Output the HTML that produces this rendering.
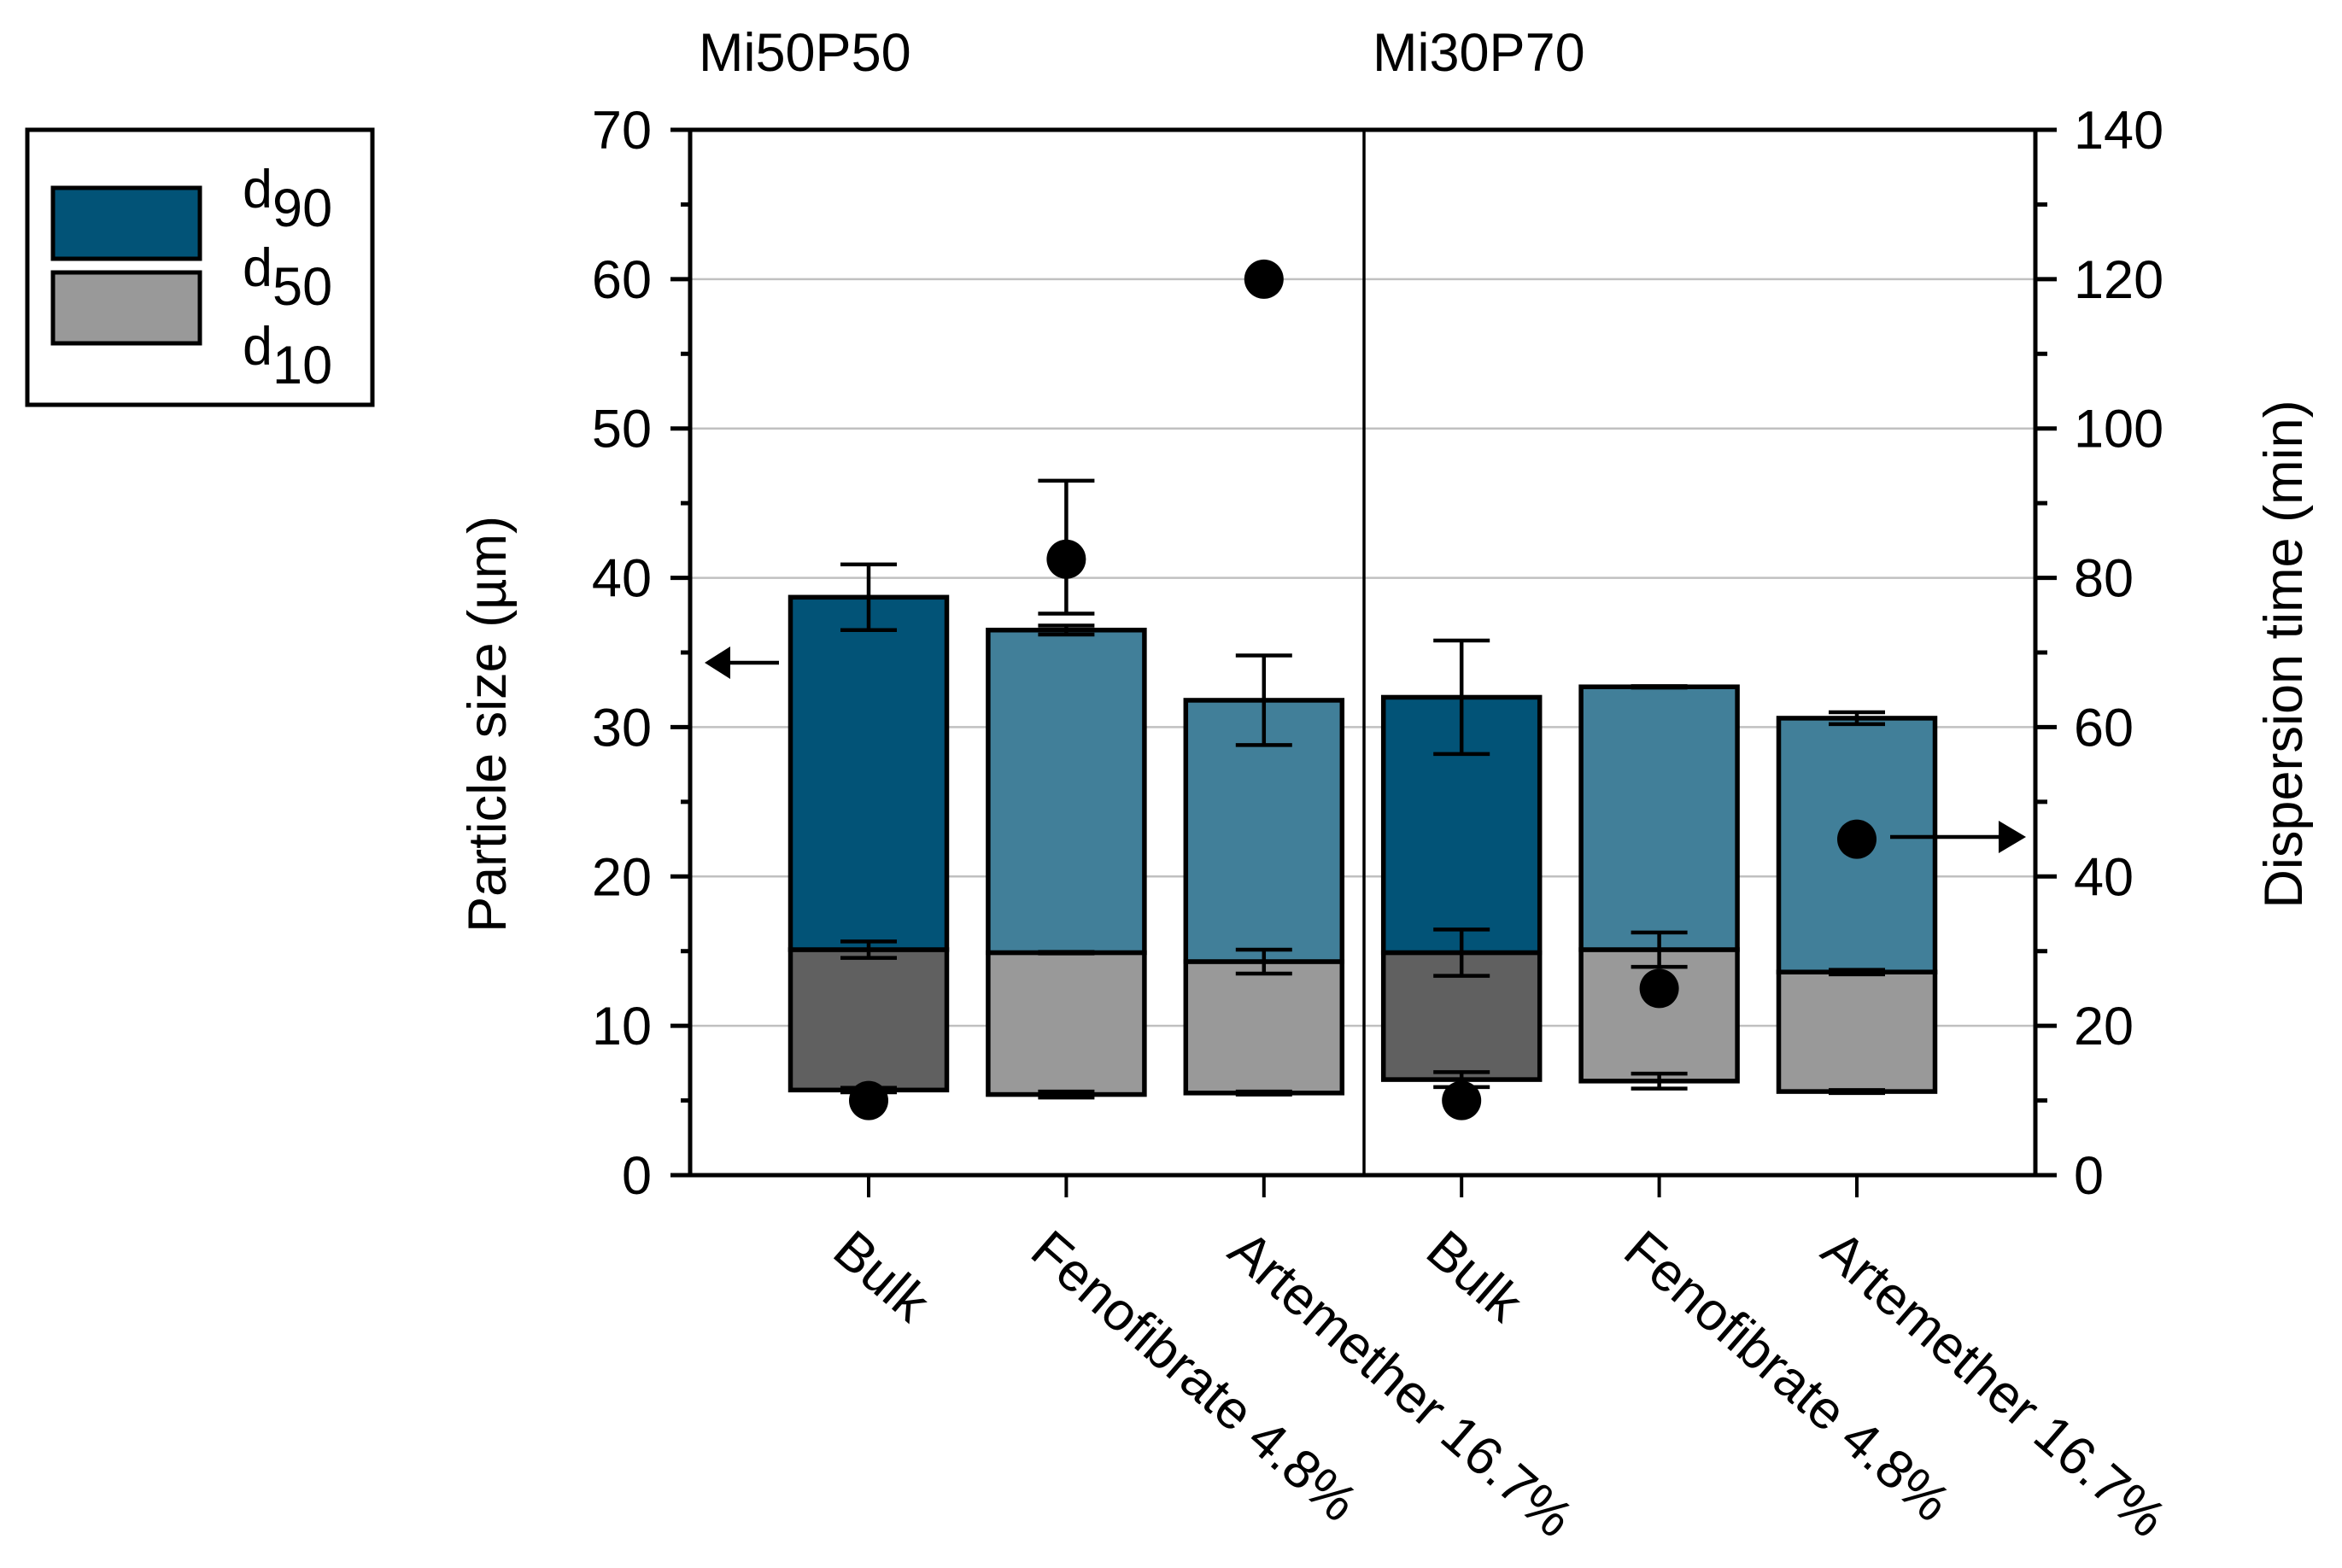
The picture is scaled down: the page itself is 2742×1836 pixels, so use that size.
<!DOCTYPE html>
<html><head><meta charset="utf-8"><style>
html,body{margin:0;padding:0;background:#fff;}
svg{display:block;font-family:"Liberation Sans",Arial,sans-serif;}
</style></head><body>
<svg id="chart" width="2742" height="1836" viewBox="0 0 2742 1836"></svg>
<script>
const categories = ["Bulk","Fenofibrate 4.8%","Artemether 16.7%","Bulk","Fenofibrate 4.8%","Artemether 16.7%"];
const d10 = [5.7,5.4,5.5,6.4,6.3,5.6];
const d10Err = [0.15,0.2,0.1,0.5,0.5,0.1];
const d50 = [15.1,14.9,14.3,14.9,15.1,13.6];
const d50Err = [0.55,0.05,0.8,1.55,1.15,0.15];
const d90 = [38.7,36.5,31.8,32.0,32.7,30.6];
const d90Err = [2.2,0.3,3.0,3.8,0.05,0.4];
const dispTime = [10,82.5,120,10,25,45];
const dispLo = [10,75.2,120,10,25,45];
const dispHi = [10,93,120,10,25,45];
const darkBar = [true,false,false,true,false,false];
const leftTicks = [0,10,20,30,40,50,60,70];
const rightTicks = [0,20,40,60,80,100,120,140];
const groups = ["Mi50P50","Mi30P70"];

const NS="http://www.w3.org/2000/svg";
const svg=document.getElementById('chart');
const L=808,R=2383,T=152,B=1376,DIV=1597;
const y=v=>B-(v/70)*(B-T);
const y2=v=>B-(v/140)*(B-T);
const x0=1017,step=231.4,bw=183;
const xc=i=>x0+i*step;
function el(tag,attrs,parent){const e=document.createElementNS(NS,tag);for(const k in attrs)e.setAttribute(k,attrs[k]);(parent||svg).appendChild(e);return e;}

leftTicks.forEach(t=>{ if(t>0&&t<70){const g=el('line',{x1:L,x2:R,y1:y(t),y2:y(t),stroke:'#c0c0c0','stroke-width':2.5});

}});

categories.forEach((c,i)=>{
  const cx=xc(i);
  const lower=el('rect',{x:cx-bw/2,y:y(d50[i]),width:bw,height:y(d10[i])-y(d50[i]),fill:darkBar[i]?'#606060':'#999999',stroke:'#000','stroke-width':5.5});
  
  
  const upper=el('rect',{x:cx-bw/2,y:y(d90[i]),width:bw,height:y(d50[i])-y(d90[i]),fill:darkBar[i]?'#025377':'#417f99',stroke:'#000','stroke-width':5.5});
  
  
  [[d90,d90Err],[d50,d50Err],[d10,d10Err]].forEach(([v,e])=>{
    const g=el('g',{stroke:'#000','stroke-width':4.5,fill:'none'});
    
    
    const a=y(v[i]+e[i]),b=y(v[i]-e[i]);
    el('line',{x1:cx,x2:cx,y1:a,y2:b},g);
    el('line',{x1:cx-33,x2:cx+33,y1:a,y2:a},g);
    el('line',{x1:cx-33,x2:cx+33,y1:b,y2:b},g);
  });
});
categories.forEach((c,i)=>{
  const cx=xc(i);
  if(dispHi[i]!==dispLo[i]){
    const g=el('g',{stroke:'#000','stroke-width':4.5});
    
    
    el('line',{x1:cx,x2:cx,y1:y2(dispHi[i]),y2:y2(dispLo[i])},g);
    el('line',{x1:cx-33,x2:cx+33,y1:y2(dispHi[i]),y2:y2(dispHi[i])},g);
    el('line',{x1:cx-33,x2:cx+33,y1:y2(dispLo[i]),y2:y2(dispLo[i])},g);
  }
  const p=el('circle',{cx:cx,cy:y2(dispTime[i]),r:23,fill:'#000'});
  
  
});

const frame=el('g',{stroke:'#000',fill:'none'});


el('line',{x1:L,x2:L,y1:T-2,y2:B+2,'stroke-width':5},frame);
el('line',{x1:R,x2:R,y1:T-2,y2:B+2,'stroke-width':5},frame);
el('line',{x1:L-2,x2:R+2,y1:T,y2:T,'stroke-width':5},frame);
el('line',{x1:L-2,x2:R+2,y1:B,y2:B,'stroke-width':5},frame);
el('line',{x1:DIV,x2:DIV,y1:T,y2:B,'stroke-width':3.5},frame);

leftTicks.forEach(t=>{
  el('line',{x1:L-23,x2:L,y1:y(t),y2:y(t),stroke:'#000','stroke-width':5});
  if(t<70) el('line',{x1:L-11,x2:L,y1:y(t+5),y2:y(t+5),stroke:'#000','stroke-width':5});
  const tx=el('text',{x:763,y:y(t)+22,'text-anchor':'end','font-size':63});
  tx.textContent=t;
  
  
});
rightTicks.forEach(t=>{
  el('line',{x1:R,x2:R+25,y1:y2(t),y2:y2(t),stroke:'#000','stroke-width':5});
  if(t<140) el('line',{x1:R,x2:R+14,y1:y2(t+10),y2:y2(t+10),stroke:'#000','stroke-width':5});
  const tx=el('text',{x:2428,y:y2(t)+22,'text-anchor':'start','font-size':63});
  tx.textContent=t;
  
  
});
categories.forEach((c,i)=>{
  const cx=xc(i);
  el('line',{x1:cx,x2:cx,y1:B,y2:B+26,stroke:'#000','stroke-width':4});
  const tx=el('text',{x:cx-45,y:1470,'font-size':63,transform:`rotate(41 ${cx-45} 1470)`});
  tx.textContent=c;
  
  
});
[[818,groups[0]],[1607,groups[1]]].forEach(([gx,g])=>{
  const tx=el('text',{x:gx,y:83,'font-size':63});
  tx.textContent=g;
  
  
});
const yt=el('text',{x:0,y:0,'font-size':63,'text-anchor':'middle',transform:'translate(592 848) rotate(-90)'});
yt.textContent='Particle size (µm)';


const yt2=el('text',{x:0,y:0,'font-size':63,'text-anchor':'middle',transform:'translate(2695 766) rotate(-90)'});
yt2.textContent='Dispersion time (min)';



const la=el('g',{});


el('line',{x1:850,x2:912,y1:776,y2:776,stroke:'#000','stroke-width':4.5},la);
el('polygon',{points:'825,776 855,757 855,795',fill:'#000'},la);
const ra=el('g',{});


el('line',{x1:2213,x2:2345,y1:980,y2:980,stroke:'#000','stroke-width':4.5},ra);
el('polygon',{points:'2372,980 2340,961 2340,999',fill:'#000'},ra);

const lg=el('g',{});


el('rect',{x:32,y:152,width:404,height:322,fill:'#fff',stroke:'#000','stroke-width':5},lg);
el('rect',{x:62,y:220,width:172,height:83,fill:'#025377',stroke:'#000','stroke-width':5},lg);
el('rect',{x:62,y:319,width:172,height:83,fill:'#999999',stroke:'#000','stroke-width':5},lg);
[["90",243],["50",335],["10",427]].forEach(([s,by])=>{
  const t=el('text',{x:284,y:by,'font-size':63},lg);
  
  
  t.appendChild(document.createTextNode('d'));
  const ts=el('tspan',{dy:22},t);
  ts.textContent=s;
});
</script>
</body></html>
